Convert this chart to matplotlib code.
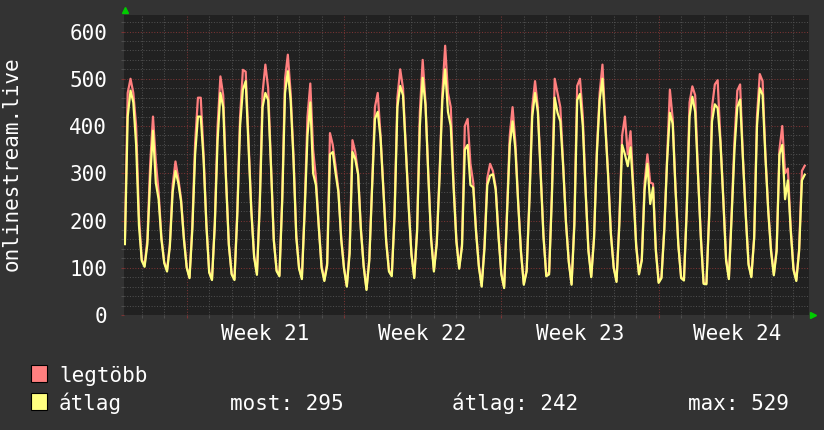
import numpy as np
import matplotlib
matplotlib.use("Agg")
import matplotlib.pyplot as plt
import matplotlib.transforms as mtransforms
from matplotlib.patches import Rectangle
from matplotlib.ticker import MultipleLocator, FixedLocator

# samples every 3 hours, time in days from the Monday of week 21
t_start = -2.75
t_step = 0.125

legtobb = [
    160, 470, 500, 470, 400, 210,
    118, 104, 160, 320, 420, 325, 260, 165,
    112, 95, 150, 275, 325, 290, 245, 165,
    102, 80, 190, 365, 460, 460, 340, 195,
    92, 76, 195, 400, 505, 465, 290, 150,
    88, 76, 220, 420, 519, 515, 370, 225,
    125, 88, 240, 470, 530, 480, 320, 160,
    95, 84, 250, 500, 551, 470, 340, 170,
    100, 80, 230, 420, 490, 350, 290, 190,
    105, 74, 110, 385, 360, 315, 265, 165,
    100, 62, 140, 370, 345, 300, 185, 105,
    55, 120, 275, 440, 470, 380, 270, 160,
    95, 85, 220, 460, 520, 480, 355, 235,
    130, 80, 180, 430, 540, 450, 300, 165,
    95, 155, 300, 470, 570, 470, 440, 280,
    160, 100, 150, 400, 415, 320, 280, 180,
    105, 62, 150, 290, 320, 305, 270, 170,
    88, 60, 220, 380, 440, 365, 240, 135,
    66, 95, 250, 440, 495, 440, 307, 170,
    85, 90, 260, 500, 470, 440, 320, 200,
    115, 66, 200, 485, 500, 420, 265, 140,
    82, 166, 350, 470, 530, 410, 300, 175,
    102, 72, 200, 380, 420, 340, 389, 270,
    150, 88, 120, 280, 340, 280, 278, 140,
    70, 80, 185, 330, 477, 415, 270, 150,
    80, 75, 230, 450, 484, 465, 300, 170,
    68, 67, 220, 440, 488, 497, 370, 250,
    120, 78, 220, 370, 475, 488, 335, 215,
    110, 82, 166, 420, 510, 495, 340, 225,
    140, 86, 140, 350, 400, 300, 310, 185,
    100, 74, 140, 305, 316,
]

atlag = [
    150, 420, 475, 450, 360, 190,
    115, 102, 150, 290, 390, 280, 245, 160,
    110, 92, 145, 260, 305, 280, 240, 160,
    100, 78, 180, 340, 420, 420, 330, 190,
    90, 74, 190, 370, 470, 440, 285, 148,
    86, 74, 210, 400, 477, 495, 360, 220,
    122, 85, 230, 440, 470, 455, 315, 158,
    93, 82, 240, 470, 516, 455, 330, 165,
    98, 76, 220, 380, 450, 300, 275, 187,
    100, 72, 105, 340, 345, 300, 260, 160,
    98, 60, 130, 345, 330, 298, 180, 102,
    53, 115, 270, 415, 430, 375, 265, 155,
    92, 82, 210, 440, 485, 465, 350, 230,
    128, 78, 175, 400, 502, 445, 295, 160,
    92, 150, 290, 455, 520, 430, 400, 270,
    155, 98, 145, 350, 360, 275, 270, 175,
    102, 60, 140, 275, 295, 298, 265, 165,
    86, 57, 210, 360, 410, 350, 235, 132,
    64, 92, 240, 420, 470, 430, 300, 165,
    82, 86, 250, 460, 428, 410, 315, 195,
    112, 64, 190, 455, 468, 400, 260, 135,
    80, 162, 340, 455, 500, 400, 295, 170,
    100, 70, 190, 360, 340, 315, 355, 260,
    145, 86, 115, 265, 320, 235, 270, 135,
    68, 78, 178, 325, 428, 405, 265, 148,
    78, 73, 220, 420, 462, 430, 295, 165,
    66, 65, 210, 410, 446, 438, 365, 245,
    115, 76, 210, 350, 440, 456, 330, 210,
    106, 80, 162, 400, 480, 466, 335, 220,
    135, 84, 135, 340, 360, 245, 285, 180,
    95, 72, 135, 285, 297,
]

week_starts = [0, 7, 14, 21]
week_labels = ["Week 21", "Week 22", "Week 23", "Week 24"]
legend_names = ["legtöbb", "átlag"]
stat_texts = ["most: 295", "átlag: 242", "max: 529"]

W, H = 824, 430
bg = "#333333"
canvas = "#212121"
red = "#ff7f7f"
yellow = "#ffff7f"
txt = "#ffffff"
grid_minor = "#4e4e4e"
grid_major = "#7a3434"
fs = 15

plt.rcParams['font.family'] = ['DejaVu Sans Mono']

fig = plt.figure(figsize=(W / 100, H / 100), dpi=100, facecolor=bg)
ax = fig.add_axes([124 / W, 1 - 315 / H, 685 / W, 300 / H])
ax.set_facecolor(canvas)
for s in ax.spines.values():
    s.set_visible(False)

t = t_start + t_step * np.arange(len(legtobb))
ax.plot(t, legtobb, color=red, lw=1.6, zorder=3)
ax.plot(t, atlag, color=yellow, lw=1.6, zorder=4)

ax.set_xlim(-2.79, 27.69)
ax.set_ylim(0, 635)

ax.yaxis.set_major_locator(MultipleLocator(100))
ax.yaxis.set_minor_locator(MultipleLocator(20))
ax.xaxis.set_major_locator(FixedLocator(week_starts))
ax.xaxis.set_minor_locator(MultipleLocator(1))
ax.set_axisbelow(True)
ax.grid(which='minor', color=grid_minor, ls=(0, (1, 1.6)), lw=0.75)
ax.grid(which='major', color=grid_major, ls=(0, (1, 1.6)), lw=0.75)

ax.set_xticklabels([])
ax.tick_params(which='major', length=2.2, width=0.8, color=grid_major,
               labelcolor=txt, labelsize=fs, pad=10)
ax.tick_params(which='minor', length=2.2, width=0.8, color=grid_minor)
ax.tick_params(axis='x', which='both', pad=2)

# week labels under the x axis
trans = mtransforms.blended_transform_factory(ax.transData, fig.transFigure)
for ws, lab in zip(week_starts, week_labels):
    ax.text(ws + 3.5, 1 - 340 / H, lab, transform=trans, ha='center',
            va='baseline', color=txt, fontsize=fs, clip_on=False)

fig.text(11.5 / W, 1 - 164 / H, "onlinestream.live", rotation=90,
         ha='center', va='center', color=txt, fontsize=fs)

# green axis arrows
fig.add_artist(plt.Line2D([125 / W], [1 - 10 / H], marker='^', color='#00cc00',
                          markersize=4.5, lw=0))
fig.add_artist(plt.Line2D([813 / W], [1 - 315 / H], marker='>', color='#00cc00',
                          markersize=4.5, lw=0))

# legend
for i, (name, col) in enumerate(zip(legend_names, [red, yellow])):
    base = 381.5 + 28 * i
    fig.add_artist(Rectangle((31.5 / W, 1 - base / H), 15.5 / W, 16.5 / H,
                             transform=fig.transFigure, facecolor=col,
                             edgecolor='#000000', lw=0.8))
    fig.text(59 / W, 1 - base / H, name, ha='left', va='baseline',
             color=txt, fontsize=fs)

for x0, s in zip([229.6, 452, 688], stat_texts):
    fig.text(x0 / W, 1 - 409.5 / H, s, ha='left', va='baseline',
             color=txt, fontsize=fs)

fig.savefig("out.png", dpi=100, facecolor=bg)
